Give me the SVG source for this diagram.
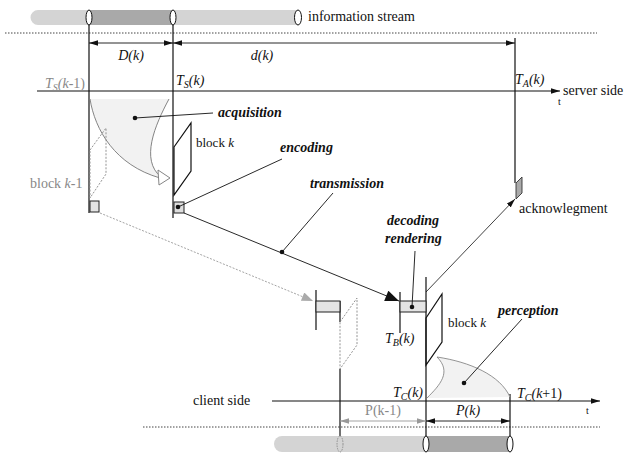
<svg xmlns="http://www.w3.org/2000/svg" width="632" height="454" viewBox="0 0 632 454" font-family="'Liberation Serif', 'Times New Roman', 'DejaVu Serif', serif">
<defs>
<style>
text{font-family:'Liberation Serif','Times New Roman','DejaVu Serif',serif;font-size:14px;fill:#111}
.it{font-style:italic}
.bi{font-style:italic;font-weight:bold}
.g{fill:#888}
.sub{font-size:10px}
.sm{font-size:13px}
.tiny{font-size:10px}
.ln{stroke:#111;stroke-width:1.2;fill:none}
.thin{stroke:#111;stroke-width:0.9;fill:none}
.dot{stroke:#444;stroke-width:1;stroke-dasharray:1.5,1.5;fill:none}
.gd{stroke:#888;stroke-width:0.9;stroke-dasharray:2,1.5;fill:none}
.cap{fill:#fff;stroke:#111;stroke-width:1}
</style>
<marker id="ab" viewBox="0 0 10 6" refX="10" refY="3" markerWidth="9" markerHeight="5.4" markerUnits="userSpaceOnUse" orient="auto-start-reverse"><path d="M0,0 L10,3 L0,6 Z" fill="#111"/></marker>
<marker id="ag" viewBox="0 0 10 6" refX="10" refY="3" markerWidth="9" markerHeight="5.4" markerUnits="userSpaceOnUse" orient="auto-start-reverse"><path d="M0,0 L10,3 L0,6 Z" fill="#999"/></marker>
<marker id="abig" viewBox="0 0 10 8" refX="10" refY="4" markerWidth="15" markerHeight="11" markerUnits="userSpaceOnUse" orient="auto"><path d="M0,0 L10,4 L0,8 Z" fill="#111"/></marker>
<marker id="agbig" viewBox="0 0 10 8" refX="10" refY="4" markerWidth="13" markerHeight="9" markerUnits="userSpaceOnUse" orient="auto"><path d="M0,0 L10,4 L0,8 Z" fill="#aaa"/></marker>
</defs>

<g id="stream-top">
<path d="M38,10 L298,10 L298,25 L38,25 A7.5,7.5 0 0 1 38,10 Z" fill="#d4d4d4"/>
<rect x="89" y="10" width="84" height="15" fill="#a9a9a9"/>
<ellipse cx="89" cy="17.5" rx="3" ry="7.5" class="cap"/>
<ellipse cx="173" cy="17.5" rx="3" ry="7.5" class="cap"/>
<ellipse cx="298" cy="17.5" rx="3.5" ry="7.5" class="cap"/>
<text x="308" y="21">information stream</text>
</g>

<g id="separators">
<line x1="5" y1="33" x2="597" y2="33" class="dot"/>
<line x1="143" y1="427" x2="600" y2="427" class="dot"/>
</g>

<g id="server-axis">
<line x1="37" y1="91" x2="560" y2="91" class="ln" marker-end="url(#ab)"/>
<text x="563" y="95">server side</text>
<text x="558" y="105" class="tiny">t</text>
<text x="45" y="88" class="it g">T<tspan class="sub" dy="3">S</tspan><tspan dy="-3">(k</tspan><tspan style="font-style:normal">-1)</tspan></text>
<text x="176" y="85" class="it">T<tspan class="sub" dy="3">S</tspan><tspan dy="-3">(k)</tspan></text>
<text x="515" y="84" class="it">T<tspan class="sub" dy="3">A</tspan><tspan dy="-3">(k)</tspan></text>
</g>

<g id="client-axis">
<line x1="272" y1="401" x2="600" y2="401" class="ln" marker-end="url(#ab)"/>
<text x="193" y="405">client side</text>
<text x="586" y="414" class="tiny">t</text>
<text x="393" y="397" class="it">T<tspan class="sub" dy="3">C</tspan><tspan dy="-3">(k)</tspan></text>
<text x="517" y="398" class="it">T<tspan class="sub" dy="3">C</tspan><tspan dy="-3">(k</tspan><tspan style="font-style:normal">+1)</tspan></text>
</g>

<g id="timelines">
<line x1="89" y1="25" x2="89" y2="213" class="ln"/>
<line x1="173" y1="25" x2="173" y2="218" class="ln"/>
<line x1="515" y1="38" x2="515" y2="183" class="ln"/>
<line x1="426" y1="277" x2="426" y2="436" class="ln"/>
<line x1="510" y1="394" x2="510" y2="436" class="ln"/>
<line x1="340" y1="301" x2="340" y2="322" class="ln"/>
<line x1="340" y1="369" x2="340" y2="436" class="ln"/>
</g>

<g id="dimensions">
<line x1="89" y1="43" x2="173" y2="43" class="thin" marker-start="url(#ab)" marker-end="url(#ab)"/>
<text x="131" y="60" class="it" text-anchor="middle">D(k)</text>
<line x1="173" y1="43" x2="515" y2="43" class="thin" marker-start="url(#ab)" marker-end="url(#ab)"/>
<text x="262" y="60" class="it" text-anchor="middle">d(k)</text>
<line x1="340" y1="421" x2="426" y2="421" stroke="#999" stroke-width="0.9" marker-start="url(#ag)" marker-end="url(#ag)"/>
<text x="383" y="415" class="g" text-anchor="middle">P(k-1)</text>
<line x1="426" y1="421" x2="510" y2="421" class="thin" marker-start="url(#ab)" marker-end="url(#ab)"/>
<text x="468" y="415" class="it" text-anchor="middle">P(k)</text>
</g>

<g id="acquisition">
<path d="M90,99 L169,99 C155,125 140,160 162,177 L160,178 C115,165 95,130 90,99 Z" fill="#f2f2f2"/>
<path d="M90,99 C95,130 115,165 160,178" stroke="#777" stroke-width="0.9" fill="none"/>
<path d="M169,99 C155,125 140,160 161,177" stroke="#777" stroke-width="0.9" fill="none"/>
<polygon points="158,170 170,178 159,185" fill="#fff" stroke="#777" stroke-width="0.9"/>
<text x="218" y="117" class="bi">acquisition</text>
</g>

<g id="block-k-1">
<polygon points="90,150 106,128 106,174 90,198" class="gd"/>
<rect x="90" y="201" width="9" height="11" fill="#e4e4e4" stroke="#222" stroke-width="1"/>
<text x="30" y="188" class="g">block <tspan class="it">k</tspan>-1</text>
</g>

<g id="block-k-server">
<polygon points="174,147 191,123 191,171 174,195" class="ln"/>
<text x="196" y="147" class="sm">block <tspan class="it">k</tspan></text>
</g>

<g id="encoding">
<rect x="174" y="202" width="10" height="11" fill="#ddd" stroke="#222" stroke-width="1"/>
<text x="280" y="152" class="bi">encoding</text>
</g>

<g id="transmission">
<text x="310" y="188" class="bi">transmission</text>
</g>

<g id="ghost-buffer">
<line x1="316" y1="290" x2="316" y2="330" class="ln"/>
<rect x="316" y="301" width="24" height="11" fill="#e4e4e4" stroke="#222" stroke-width="1"/>
<polygon points="340,322 357,298 357,345 340,369" class="gd"/>
</g>

<g id="decoding">
<line x1="400" y1="292" x2="400" y2="333" class="ln"/>
<rect x="400" y="301" width="26" height="11" fill="#e4e4e4" stroke="#222" stroke-width="1"/>
<text x="387" y="225" class="bi">decoding</text>
<text x="385" y="243" class="bi">rendering</text>
<text x="385" y="343" class="it">T<tspan class="sub" dy="3">B</tspan><tspan dy="-3">(k)</tspan></text>
</g>

<g id="block-k-client">
<polygon points="426,318 442,294 442,342 426,365" class="ln"/>
<text x="448" y="327" class="sm">block <tspan class="it">k</tspan></text>
</g>

<g id="perception">
<path d="M427,398 C440,385 452,372 437,357 C470,362 500,375 510,397 Z" fill="#f2f2f2"/>
<path d="M427,398 C440,385 452,372 437,357 C470,362 500,375 510,397" stroke="#888" stroke-width="0.9" fill="none"/>
<text x="498" y="315" class="bi">perception</text>
</g>

<g id="acknowledgement">
<polygon points="516,183 522,177 522,193 516,199" fill="#aaa" stroke="#333" stroke-width="0.9"/>
<text x="519" y="213">acknowlegment</text>
</g>

<g id="stream-bottom">
<path d="M282,436 L426,436 L426,452 L282,452 A8,8 0 0 1 282,436 Z" fill="#d4d4d4"/>
<rect x="426" y="436" width="84" height="16" fill="#a9a9a9"/>
<ellipse cx="340" cy="444" rx="3" ry="8" fill="#d4d4d4" stroke="#888" stroke-width="0.9" stroke-dasharray="1.5,1"/>
<ellipse cx="426" cy="444" rx="3" ry="8" class="cap"/>
<ellipse cx="510" cy="444" rx="3" ry="8" class="cap"/>
</g>

<g id="connectors">
<line x1="184" y1="213" x2="399" y2="301" class="thin" marker-end="url(#abig)"/>
<line x1="100" y1="213" x2="313" y2="301" stroke="#999" stroke-width="0.9" stroke-dasharray="2,1.5" marker-end="url(#agbig)"/>
<line x1="426" y1="292" x2="515" y2="199" stroke="#111" stroke-width="0.8" marker-end="url(#ab)"/>
<line x1="135" y1="118" x2="213" y2="113" class="thin"/>
<circle cx="135" cy="118" r="2.3" fill="#111"/>
<line x1="178" y1="207" x2="282" y2="159" class="thin"/>
<circle cx="178" cy="207" r="2.3" fill="#111"/>
<line x1="282" y1="252" x2="333" y2="193" class="thin"/>
<circle cx="282" cy="252" r="2.3" fill="#111"/>
<line x1="412" y1="307" x2="415" y2="251" class="thin"/>
<circle cx="412" cy="307" r="2.3" fill="#111"/>
<line x1="464" y1="383" x2="522" y2="319" class="thin"/>
<circle cx="464" cy="383" r="2.3" fill="#111"/>
</g>
</svg>
